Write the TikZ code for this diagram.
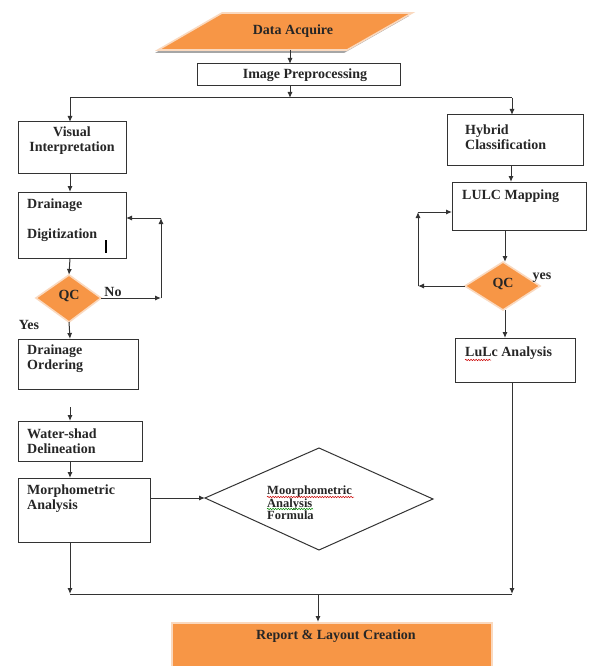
\documentclass[tikz,border=0pt]{standalone}
\usepackage{fontspec}
\setmainfont{Liberation Serif}
\usepackage{tikz}
\usetikzlibrary{arrows.meta,decorations.pathmorphing}
\definecolor{flowOrange}{HTML}{F79646}
\definecolor{rimPeach}{HTML}{FAD9BF}
\definecolor{lineGrey}{HTML}{333333}
\definecolor{shadeGrey}{HTML}{A6A6A6}
\tikzstyle{none}=[inner sep=0pt]
\tikzstyle{txt}=[inner sep=0pt,text=black!85,font=\bfseries\fontsize{14}{15}\selectfont]
\tikzstyle{small txt}=[inner sep=0pt,text=black!85,font=\bfseries\fontsize{12.5}{12.5}\selectfont]
\tikzstyle{simple}=[-,draw=lineGrey,line width=1pt]
\tikzstyle{arrow}=[-{Latex[length=6pt,width=5pt]},draw=lineGrey,line width=1pt]
\tikzstyle{box}=[draw=lineGrey,line width=1pt,fill=white]
\tikzstyle{orange}=[fill=flowOrange,draw=rimPeach,line width=1.6pt]
\tikzstyle{squiggle}=[decorate,decoration={snake,amplitude=0.7pt,segment length=2.6pt},line width=0.5pt]

\begin{document}
\begin{tikzpicture}[x=1pt,y=-1pt]
  \useasboundingbox [fill=white] (0,0) rectangle (591,666);
  % data acquire
  \node [style=none] (0) at (222, 13) {};
  \node [style=none] (1) at (412, 13) {};
  \node [style=none] (2) at (347, 50) {};
  \node [style=none] (3) at (158, 50) {};
  \fill [shadeGrey] ([shift={(-3,3)}]0.center) to ([shift={(-3,3)}]1.center) to ([shift={(-3,3)}]2.center) to ([shift={(-3,3)}]3.center) to cycle;
  \draw [style=orange] (0.center) to (1.center) to (2.center) to (3.center) to cycle;
  \node [style=txt] (4) at (293, 31) {Data Acquire};
  % image preprocessing
  \node [style=none] (5) at (197, 64) {};
  \node [style=none] (6) at (400, 86) {};
  \draw [style=box] (5.center) rectangle (6.center);
  \node [style=txt] (7) at (305, 75) {Image Preprocessing};
  \node [style=none] (8) at (290, 50) {};
  \node [style=none] (9) at (290, 64) {};
  \node [style=none] (10) at (290, 86) {};
  \node [style=none] (11) at (290, 98) {};
  \node [style=none] (12) at (70, 98) {};
  \node [style=none] (13) at (512, 98) {};
  \draw [style=arrow] (8.center) to (9.center);
  \draw [style=arrow] (10.center) to (11.center);
  \draw [style=simple] (12.center) to (13.center);
  % left branch
  \node [style=none] (14) at (70, 122) {};
  \node [style=none] (15) at (18, 122) {};
  \node [style=none] (16) at (126, 173) {};
  \draw [style=box] (15.center) rectangle (16.center);
  \node [style=txt, align=center] (17) at (72, 141) {Visual\\Interpretation};
  \draw [style=arrow] (12.center) to (14.center);
  \node [style=none] (18) at (70, 173) {};
  \node [style=none] (19) at (70, 192) {};
  \node [style=none] (20) at (18, 192) {};
  \node [style=none] (21) at (126, 258) {};
  \draw [style=arrow] (18.center) to (19.center);
  \draw [style=box] (20.center) rectangle (21.center);
  \node [style=txt, anchor=west] (22) at (27, 205) {Drainage};
  \node [style=txt, anchor=west] (23) at (27, 235) {Digitization};
  \node [style=none] (24) at (106, 240) {};
  \node [style=none] (25) at (106, 253) {};
  \draw [-, draw=black, line width=1.3pt] (24.center) to (25.center);
  % qc left
  \node [style=none] (26) at (70, 258) {};
  \node [style=none] (27) at (69, 275) {};
  \node [style=none] (28) at (101, 298) {};
  \node [style=none] (29) at (69, 322) {};
  \node [style=none] (30) at (36, 298) {};
  \draw [style=arrow] (26.center) to (27.center);
  \draw [style=orange] (27.center) to (28.center) to (29.center) to (30.center) to cycle;
  \node [style=txt] (31) at (69, 296) {QC};
  \node [style=txt] (32) at (113, 292) {No};
  \node [style=txt] (33) at (29, 325) {Yes};
  \node [style=none] (34) at (161, 298) {};
  \node [style=none] (35) at (161, 218) {};
  \node [style=none] (36) at (126, 218) {};
  \draw [style=arrow] (28.center) to (34.center);
  \draw [style=arrow] (34.center) to (35.center);
  \draw [style=arrow] (35.center) to (36.center);
  % drainage ordering
  \node [style=none] (37) at (70, 339) {};
  \node [style=none] (38) at (18, 339) {};
  \node [style=none] (39) at (138, 389) {};
  \draw [style=arrow] (29.center) to (37.center);
  \draw [style=box] (38.center) rectangle (39.center);
  \node [style=txt, anchor=west, align=left] (40) at (27, 359) {Drainage\\Ordering};
  % watershed
  \node [style=none] (41) at (70, 407) {};
  \node [style=none] (42) at (70, 421) {};
  \node [style=none] (43) at (18, 421) {};
  \node [style=none] (44) at (142, 461) {};
  \draw [style=arrow] (41.center) to (42.center);
  \draw [style=box] (43.center) rectangle (44.center);
  \node [style=txt, anchor=west, align=left] (45) at (27, 441) {Water-shad\\Delineation};
  % morphometric
  \node [style=none] (46) at (70, 461) {};
  \node [style=none] (47) at (70, 478) {};
  \node [style=none] (48) at (18, 478) {};
  \node [style=none] (49) at (150, 542) {};
  \draw [style=arrow] (46.center) to (47.center);
  \draw [style=box] (48.center) rectangle (49.center);
  \node [style=txt, anchor=west, align=left] (50) at (27, 499) {Morphometric\\Analysis};
  % formula
  \node [style=none] (51) at (150, 498) {};
  \node [style=none] (52) at (205, 498) {};
  \node [style=none] (53) at (319, 448) {};
  \node [style=none] (54) at (433, 499) {};
  \node [style=none] (55) at (319, 550) {};
  \draw [style=simple] (52.center) to (53.center) to (54.center) to (55.center) to cycle;
  \draw [style=arrow] (51.center) to (52.center);
  \node [style=small txt, anchor=west, align=left] (56) at (267, 503) {Moorphometric\\Analysis\\Formula};
  \node [style=none] (57) at (267, 497) {};
  \node [style=none] (58) at (354, 497) {};
  \node [style=none] (59) at (267, 509) {};
  \node [style=none] (60) at (313, 509) {};
  \draw [style=squiggle, red!80!black] (57.center) to (58.center);
  \draw [style=squiggle, green!55!black] (59.center) to (60.center);
  % right branch
  \node [style=none] (61) at (512, 115) {};
  \node [style=none] (62) at (447, 115) {};
  \node [style=none] (63) at (583, 165) {};
  \draw [style=arrow] (13.center) to (61.center);
  \draw [style=box] (62.center) rectangle (63.center);
  \node [style=txt, anchor=west, align=left] (64) at (465, 137) {Hybrid\\Classification};
  \node [style=none] (65) at (511, 165) {};
  \node [style=none] (66) at (511, 182) {};
  \node [style=none] (67) at (452, 182) {};
  \node [style=none] (68) at (586, 230) {};
  \draw [style=arrow] (65.center) to (66.center);
  \draw [style=box] (67.center) rectangle (68.center);
  \node [style=txt, anchor=west] (69) at (462, 196) {LULC Mapping};
  % qc right
  \node [style=none] (70) at (505, 230) {};
  \node [style=none] (71) at (503, 262) {};
  \node [style=none] (72) at (540, 286) {};
  \node [style=none] (73) at (503, 310) {};
  \node [style=none] (74) at (465, 286) {};
  \draw [style=arrow] (70.center) to ([xshift=2pt]71.center);
  \draw [style=orange] (71.center) to (72.center) to (73.center) to (74.center) to cycle;
  \node [style=txt] (75) at (503, 284) {QC};
  \node [style=txt] (76) at (542, 278) {yes};
  \node [style=none] (77) at (418, 286) {};
  \node [style=none] (78) at (418, 212) {};
  \node [style=none] (79) at (452, 212) {};
  \draw [style=arrow] (74.center) to (77.center);
  \draw [style=arrow] (77.center) to (78.center);
  \draw [style=arrow] (78.center) to (79.center);
  % lulc analysis
  \node [style=none] (80) at (505, 338) {};
  \node [style=none] (81) at (455, 338) {};
  \node [style=none] (82) at (575, 382) {};
  \draw [style=arrow] ([xshift=2pt]73.center) to (80.center);
  \draw [style=box] (81.center) rectangle (82.center);
  \node [style=txt, anchor=west] (83) at (465, 353) {LuLc Analysis};
  \node [style=none] (84) at (465, 360) {};
  \node [style=none] (85) at (491, 360) {};
  \draw [style=squiggle, red!80!black] (84.center) to (85.center);
  % report
  \node [style=none] (86) at (512, 382) {};
  \node [style=none] (87) at (512, 594) {};
  \node [style=none] (88) at (70, 542) {};
  \node [style=none] (89) at (70, 594) {};
  \node [style=none] (90) at (318, 594) {};
  \node [style=none] (91) at (318, 622) {};
  \draw [style=arrow] (86.center) to (87.center);
  \draw [style=arrow] (88.center) to (89.center);
  \draw [style=simple] (89.center) to (87.center);
  \draw [style=arrow] (90.center) to (91.center);
  \node [style=none] (92) at (172, 623) {};
  \node [style=none] (93) at (492, 668) {};
  \draw [style=orange] (92.center) rectangle (93.center);
  \node [style=txt] (94) at (336, 636) {Report \& Layout Creation};
\end{tikzpicture}
\end{document}
